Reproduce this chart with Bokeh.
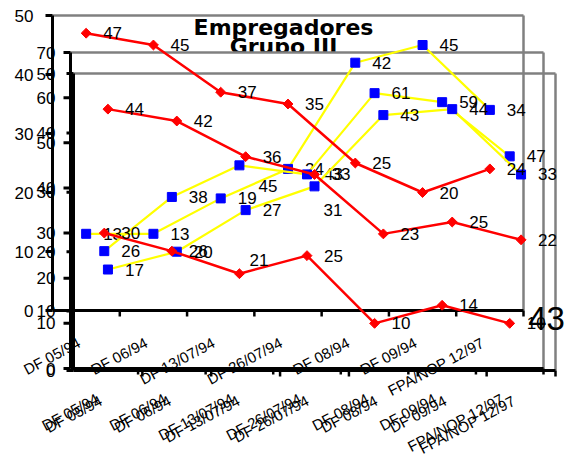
import math
from bokeh.plotting import figure
from bokeh.models import Range1d, ColumnDataSource, Label
from bokeh.core.properties import value
from bokeh.embed import file_html
from bokeh.resources import INLINE

# ---------------- data ----------------
categories = ["DF 05/94", "DF 06/94", "DF 13/07/94", "DF 26/07/94",
              "DF 08/94", "DF 09/94", "FPA/NOP 12/97"]

a_red = [47, 45, 37, 35, 25, 20, 24]
a_yellow = [13, 13, 19, 24, 42, 45, 34]
b_red = [30, 26, 21, 25, 10, 14, 10]
b_yellow = [26, 38, 45, 43, 61, 59, 47]
c_red = [44, 42, 36, 33, 23, 25, 22]
c_yellow = [17, 20, 27, 31, 43, 44, 33]

a_ticks = [0, 10, 20, 30, 40, 50]
b_ticks = [0, 10, 20, 30, 40, 50, 60, 70]
c_ticks = [0, 10, 20, 30, 40, 50]

title_lines = ["Empregadores", "Grupo III"]
stray_text = "43"

# ---------------- layout (page pixels) ----------------
W, H = 579, 457
M = 0
frames = {
    "A": dict(left=52, right=523, zero=310, top=15, ticks=a_ticks, lab_dx=-19, cat_dy=31),
    "B": dict(left=70, right=543, zero=368, top=52, ticks=b_ticks, lab_dx=-15, cat_dy=29),
    "C": dict(left=73, right=555, zero=370, top=73, ticks=c_ticks, lab_dx=-18, cat_dy=29),
}
n = len(categories)

def ranges(f):
    pxc = (f["right"] - f["left"]) / n
    ymax = max(f["ticks"])
    ppu = (f["zero"] - f["top"]) / ymax
    xr = Range1d((M - f["left"]) / pxc, (M + W - f["left"]) / pxc)
    yr = Range1d((f["zero"] - (M + H)) / ppu, (f["zero"] - M) / ppu)
    return xr, yr

xa, ya = ranges(frames["A"])
p = figure(width=W, height=H, x_range=xa, y_range=ya,
           x_axis_type=None, y_axis_type=None,
           toolbar_location=None, output_backend="svg", min_border=0)
p.outline_line_color = None
p.background_fill_color = "white"
p.border_fill_color = "white"
for k in ("B", "C"):
    xr, yr = ranges(frames[k])
    p.extra_x_ranges[k] = xr
    p.extra_y_ranges[k] = yr

def rn(k):
    return "default" if k == "A" else k

FONT = value("Arial")
GRAY = "#808080"

# titles (drawn beneath everything)
p.add_layout(Label(x=283, y=H - 27, x_units="screen", y_units="screen",
                   text=title_lines[0], text_font="DejaVu Sans", text_font_style="bold",
                   text_font_size="22px", text_align="center", text_baseline="alphabetic",
                   text_color="black", level="image"))
p.add_layout(Label(x=283, y=H - 46, x_units="screen", y_units="screen",
                   text=title_lines[1], text_font="DejaVu Sans", text_font_style="bold",
                   text_font_size="22px", text_align="center", text_baseline="alphabetic",
                   text_color="black", level="image"))

# white plot area of frame B (covers lower part of the title)
fb = frames["B"]
p.quad(left=[0], right=[n], bottom=[0], top=[max(fb["ticks"])],
       fill_color="white", line_color=None, level="underlay",
       x_range_name="B", y_range_name="B")

# frames, axes, ticks, tick labels
for k in ("A", "B", "C"):
    f = frames[k]
    r = rn(k)
    ymax = max(f["ticks"])
    kw = dict(x_range_name=r, y_range_name=r)
    p.segment(x0=[0, n], y0=[ymax, 0], x1=[n, n], y1=[ymax, ymax],
              line_color=GRAY, line_width=2.5, **kw)
    p.segment(x0=[0, 0], y0=[0, 0], x1=[0, n], y1=[ymax, 0],
              line_color="black", line_width=3, **kw)
    p.ray(x=[0] * len(f["ticks"]), y=f["ticks"], length=7, angle=math.pi,
          length_units="screen", line_color="black", line_width=3, **kw)
    p.ray(x=list(range(1, n + 1)), y=[0] * n, length=6, angle=-math.pi / 2,
          length_units="screen", line_color="black", line_width=2.5, **kw)
    p.text(x=[0] * len(f["ticks"]), y=f["ticks"], text=[str(t) for t in f["ticks"]],
           x_offset=f["lab_dx"], text_align="right", text_baseline="middle",
           text_font=FONT, text_font_size="17px", text_color="black", **kw)
    p.text(x=[i + 0.5 for i in range(n)], y=[0] * n, text=categories,
           angle=math.radians(28), x_offset=-7, y_offset=f["cat_dy"],
           text_align="right", text_baseline="middle",
           text_font=FONT, text_font_size="15px", text_color="black", **kw)

# series
series = [
    ("A", "yellow", a_yellow), ("B", "yellow", b_yellow), ("C", "yellow", c_yellow),
    ("A", "red", a_red), ("B", "red", b_red), ("C", "red", c_red),
]
nudges = {("B", "yellow", 2): (19, 21), ("B", "red", 2): (10, -14),
          ("C", "yellow", 3): (9, 24)}

for k, kind, vals in series:
    r = rn(k)
    kw = dict(x_range_name=r, y_range_name=r)
    xs = [i + 0.5 for i in range(n)]
    dx = [nudges.get((k, kind, i), (17, 0))[0] for i in range(n)]
    dy = [nudges.get((k, kind, i), (17, 0))[1] for i in range(n)]
    src = ColumnDataSource(dict(x=xs, y=vals, t=[str(v) for v in vals], dx=dx, dy=dy))
    if kind == "yellow":
        p.line("x", "y", source=src, line_color="#FFFF00", line_width=2.2, **kw)
        p.scatter("x", "y", source=src, marker="square", size=9,
                  fill_color="#0000FF", line_color="#0000FF", **kw)
    else:
        p.line("x", "y", source=src, line_color="#FF0000", line_width=2.5, **kw)
        p.scatter("x", "y", source=src, marker="square", angle=math.pi / 4, size=7,
                  fill_color="#FF0000", line_color="#FF0000", **kw)
    p.text("x", "y", text="t", source=src, x_offset="dx", y_offset="dy",
           text_align="left", text_baseline="middle",
           text_font=FONT, text_font_size="17px", text_color="black", **kw)

p.add_layout(Label(x=546, y=H - 318, x_units="screen", y_units="screen",
                   text=stray_text, text_font="Arial", text_color="black",
                   text_font_size="33px", text_align="center", text_baseline="middle"))

open("out.html", "w").write(file_html(p, INLINE))
